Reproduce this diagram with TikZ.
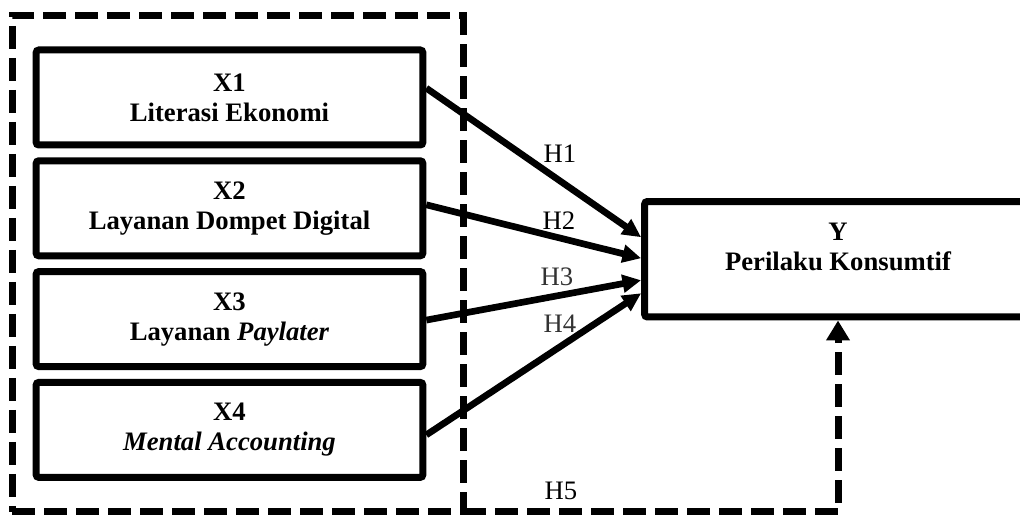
\documentclass[tikz,border=0pt]{standalone}
\usepackage{fontspec}
\setmainfont{Liberation Serif}
\usetikzlibrary{positioning,arrows.meta}

\begin{document}
\begin{tikzpicture}[x=0.75pt,y=0.75pt]
\tikzstyle{varbox}=[draw, line width=5.25pt, rounded corners=2pt, minimum width=290pt, minimum height=71.25pt, align=center, font=\fontsize{20}{22.5}\selectfont\bfseries]
\tikzstyle{dashline}=[line width=5.25pt, dash pattern=on 17pt off 7pt]
\tikzstyle{hyp}=[line width=5pt, -{Triangle[length=14pt,width=13pt]}]
\tikzstyle{hlabel}=[font=\fontsize{20}{22.5}\selectfont, inner sep=0pt]
\useasboundingbox (0,0) rectangle (1020,516);
\clip (0,0) rectangle (1020,516);
% group of independent variables
\node[dashline, draw, outer sep=0pt, minimum width=338.25pt, minimum height=372pt] (grp) at (237.5,252) {};
\node[varbox] (x1) at (229.5,418.5) {X1\\Literasi Ekonomi};
\node[varbox, below=6.6pt of x1] (x2) {X2\\Layanan Dompet Digital};
\node[varbox, below=6.6pt of x2] (x3) {X3\\Layanan \textit{Paylater}};
\node[varbox, below=6.6pt of x3] (x4) {X4\\\textit{Mental Accounting}};
% dependent variable
\node[varbox, minimum height=86.6pt] (y) at (838,256.75) {};
\node[varbox, draw=none, minimum height=0pt] (ylbl) at ([yshift=9.6pt]y.center) {Y\\Perilaku Konsumtif};
% hypotheses
\draw[hyp] ([yshift=7pt]x1.east) -- ([yshift=16.5pt]y.west);
\draw[hyp] ([yshift=2.6pt]x2.east) -- ([yshift=0.75pt]y.west);
\draw[hyp] ([yshift=-0.75pt]x3.east) -- ([yshift=-15.75pt]y.west);
\draw[hyp] ([yshift=-3.75pt]x4.east) -- ([yshift=-25.5pt]y.west);
\draw[dashline, -{Triangle[length=15pt,width=17pt]}] (grp.south east) -| (y.south);
\node[hlabel] (h1) at (560,362) {H1};
\node[hlabel] (h2) at (559,295) {H2};
\node[hlabel, text=black!80] (h3) at (557,239) {H3};
\node[hlabel, text=black!80] (h4) at (560,192) {H4};
\node[hlabel] (h5) at (561,25) {H5};
\end{tikzpicture}
\end{document}
